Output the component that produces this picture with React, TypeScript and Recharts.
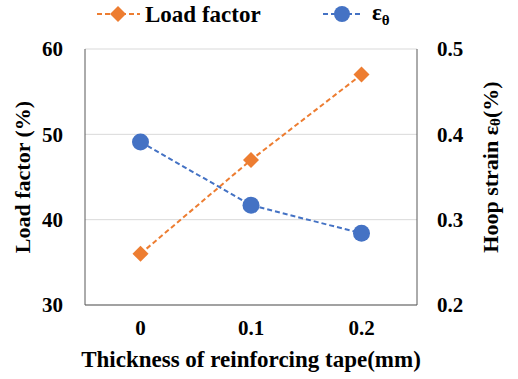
import React from 'react';
import {
  ComposedChart, Line, XAxis, YAxis, CartesianGrid, Legend, Label,
} from 'recharts';

const thickness = ['0', '0.1', '0.2'];
const loadFactor = [36, 47, 57];
const hoopStrain = [0.391, 0.317, 0.284];
const loadTicks = [30, 40, 50, 60];
const strainTicks = [0.2, 0.3, 0.4, 0.5];

const data = thickness.map((t, i) => ({ t, load: loadFactor[i], strain: hoopStrain[i] }));

const ORANGE = '#ED7D31';
const BLUE = '#4472C4';
const FONT = '"Liberation Serif", "Times New Roman", serif';
const tickStyle = { fill: '#000', fontSize: 21, fontWeight: 700, fontFamily: FONT };

const Diamond = (props: any) => {
  const { cx, cy } = props;
  if (cx == null || cy == null) return null;
  const s = 8;
  return <path d={`M${cx},${cy - s}L${cx + s},${cy}L${cx},${cy + s}L${cx - s},${cy}Z`} fill={ORANGE} />;
};

const Dot = (props: any) => {
  const { cx, cy } = props;
  if (cx == null || cy == null) return null;
  return <circle cx={cx} cy={cy} r={8.5} fill={BLUE} />;
};

function LegendContent() {
  const text = { fontFamily: FONT, fontWeight: 700, fontSize: 23, fill: '#000' };
  return (
    <svg width={518} height={30}>
      <line x1={97} y1={14} x2={140} y2={14} stroke={ORANGE} strokeWidth={2} strokeDasharray="5 3" />
      <path d="M118,6L126,14L118,22L110,14Z" fill={ORANGE} />
      <text x={145} y={22} {...text}>Load factor</text>
      <line x1={323} y1={14} x2={362} y2={14} stroke={BLUE} strokeWidth={2} strokeDasharray="5 3" />
      <circle cx={342} cy={14} r={8} fill={BLUE} />
      <text x={372} y={20} {...text}>ε<tspan fontSize={15} dy={5}>θ</tspan></text>
    </svg>
  );
}

const RightTitle = () => {
  const cx = 490;
  const cy = 167;
  return (
    <text
      x={cx}
      y={cy}
      transform={`rotate(-90 ${cx} ${cy})`}
      textAnchor="middle"
      dominantBaseline="central"
      fontFamily={FONT}
      fontWeight={700}
      fontSize={22}
      fill="#000"
    >
      Hoop strain ε<tspan fontSize={15} dy={5}>θ</tspan><tspan dy={-5}>(%)</tspan>
    </text>
  );
};

export default function App() {
  return (
    <div style={{ position: 'fixed', left: 0, top: 0, background: '#fff' }}>
      <ComposedChart
        width={518}
        height={379}
        data={data}
        margin={{ top: 49, right: 0, bottom: 0, left: 0 }}
      >
        <CartesianGrid yAxisId="left" vertical={false} stroke="#d9d9d9" />
        <XAxis
          dataKey="t"
          padding={{ left: 55.5, right: 55.5 }}
          axisLine={{ stroke: '#595959' }}
          tickLine={false}
          tickSize={4}
          tickMargin={11}
          tick={tickStyle}
          height={74}
        >
          <Label
            value="Thickness of reinforcing tape(mm)"
            position="insideBottom"
            offset={12}
            style={{ fill: '#000', fontSize: 23, fontWeight: 700, fontFamily: FONT }}
          />
        </XAxis>
        <XAxis
          xAxisId="top"
          dataKey="t"
          orientation="top"
          height={0}
          padding={{ left: 55.5, right: 55.5 }}
          axisLine={{ stroke: '#595959' }}
          tickLine={false}
          tick={false}
        />
        <YAxis
          yAxisId="left"
          domain={[30, 60]}
          ticks={loadTicks}
          width={85}
          axisLine={{ stroke: '#595959' }}
          tickLine={false}
          tickSize={6}
          tickMargin={16}
          tick={tickStyle}
        >
          <Label
            value="Load factor (%)"
            angle={-90}
            position="insideLeft"
            offset={22}
            style={{ textAnchor: 'middle', fill: '#000', fontSize: 22, fontWeight: 700, fontFamily: FONT }}
          />
        </YAxis>
        <YAxis
          yAxisId="right"
          orientation="right"
          domain={[0.2, 0.5]}
          ticks={strainTicks}
          tickFormatter={(v: number) => v.toFixed(1)}
          width={101}
          axisLine={{ stroke: '#595959' }}
          tickLine={false}
          tickSize={6}
          tickMargin={14}
          tick={{ ...tickStyle, textAnchor: 'start' }}
        >
          <Label content={<RightTitle />} />
        </YAxis>
        <Legend
          layout="horizontal"
          verticalAlign="middle"
          align="center"
          wrapperStyle={{ top: 0, left: 0, width: 518 }}
          content={<LegendContent />}
        />
        <Line
          yAxisId="left"
          dataKey="load"
          name="Load factor"
          stroke={ORANGE}
          strokeWidth={2}
          strokeDasharray="5 3"
          dot={<Diamond />}
          activeDot={false}
          isAnimationActive={false}
        />
        <Line
          yAxisId="right"
          dataKey="strain"
          name="εθ"
          stroke={BLUE}
          strokeWidth={2}
          strokeDasharray="5 3"
          dot={<Dot />}
          activeDot={false}
          isAnimationActive={false}
        />
      </ComposedChart>
    </div>
  );
}
